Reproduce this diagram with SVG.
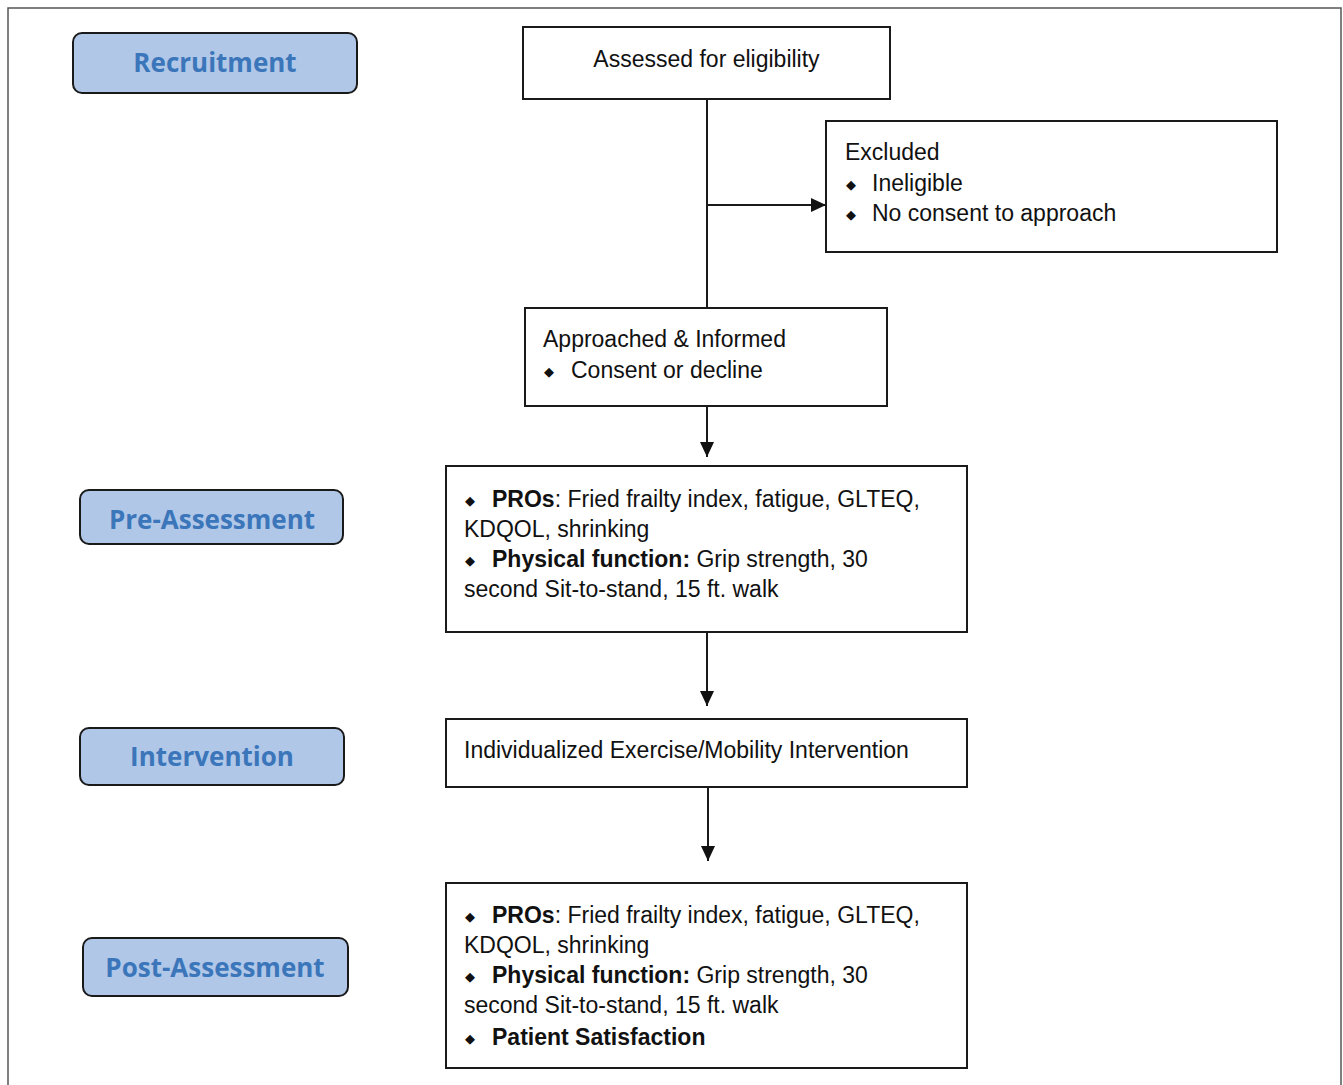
<svg xmlns="http://www.w3.org/2000/svg" width="1343" height="1085" viewBox="0 0 1343 1085">
<defs>
<marker id="arr" markerWidth="16" markerHeight="16" refX="15" refY="8" orient="auto" markerUnits="userSpaceOnUse">
<path d="M0,1 L15,8 L0,15 Z" fill="#111"/>
</marker>
<style>
.box{fill:#fff;stroke:#1a1a1a;stroke-width:2}
.lbl{fill:#b0c7e8;stroke:#1a1a1a;stroke-width:2}
.lt{font-family:"Open Sans","Liberation Sans",sans-serif;font-weight:700;font-size:26px;fill:#3b76ba;text-anchor:middle}
.t{font-family:"Liberation Sans",Arial,sans-serif;font-size:23px;fill:#111}
.b{font-weight:700}
.bul{font-family:"DejaVu Sans",sans-serif;font-size:13px;fill:#111}
.c{stroke:#1a1a1a;stroke-width:2;fill:none}
</style>
</defs>
<rect x="0" y="0" width="1343" height="1085" fill="#fff"/>
<rect x="8" y="8" width="1333" height="1090" fill="none" stroke="#555" stroke-width="1.5"/>

<g id="lbl-recruitment"><rect class="lbl" x="73" y="33" width="284" height="60" rx="9"/><text class="lt" x="215" y="72">Recruitment</text></g>
<g id="lbl-pre"><rect class="lbl" x="80" y="490" width="263" height="54" rx="9"/><text class="lt" x="212" y="529">Pre-Assessment</text></g>
<g id="lbl-intervention"><rect class="lbl" x="80" y="728" width="264" height="57" rx="9"/><text class="lt" x="212" y="766">Intervention</text></g>
<g id="lbl-post"><rect class="lbl" x="83" y="938" width="265" height="58" rx="9"/><text class="lt" x="215" y="977">Post-Assessment</text></g>

<g id="connectors">
<line class="c" x1="707" y1="99" x2="707" y2="308"/>
<line class="c" x1="707" y1="205" x2="826" y2="205" marker-end="url(#arr)"/>
<line class="c" x1="707" y1="406" x2="707" y2="457" marker-end="url(#arr)"/>
<line class="c" x1="707" y1="632" x2="707" y2="706" marker-end="url(#arr)"/>
<line class="c" x1="708" y1="787" x2="708" y2="861" marker-end="url(#arr)"/>
</g>

<g id="assessed"><rect class="box" x="523" y="27" width="367" height="72"/><text class="t" x="706.5" y="67" text-anchor="middle">Assessed for eligibility</text></g>

<g id="excluded"><rect class="box" x="826" y="121" width="451" height="131"/>
<text class="t" x="845" y="160">Excluded</text>
<text class="bul" x="846" y="189">◆</text><text class="t" x="872" y="191">Ineligible</text>
<text class="bul" x="846" y="219">◆</text><text class="t" x="872" y="221">No consent to approach</text>
</g>

<g id="approached"><rect class="box" x="525" y="308" width="362" height="98"/>
<text class="t" x="543" y="347">Approached &amp; Informed</text>
<text class="bul" x="544" y="376">◆</text><text class="t" x="571" y="378">Consent or decline</text>
</g>

<g id="pre"><rect class="box" x="446" y="466" width="521" height="166"/>
<text class="bul" x="465" y="505">◆</text><text class="t" x="492" y="507"><tspan class="b">PROs</tspan>: Fried frailty index, fatigue, GLTEQ,</text>
<text class="t" x="464" y="537">KDQOL, shrinking</text>
<text class="bul" x="465" y="565">◆</text><text class="t" x="492" y="567"><tspan class="b">Physical function:</tspan> Grip strength, 30</text>
<text class="t" x="464" y="597">second Sit-to-stand, 15 ft. walk</text>
</g>

<g id="intervention"><rect class="box" x="446" y="719" width="521" height="68"/>
<text class="t" x="464" y="758">Individualized Exercise/Mobility Intervention</text>
</g>

<g id="post"><rect class="box" x="446" y="883" width="521" height="185"/>
<text class="bul" x="465" y="921">◆</text><text class="t" x="492" y="923"><tspan class="b">PROs</tspan>: Fried frailty index, fatigue, GLTEQ,</text>
<text class="t" x="464" y="953">KDQOL, shrinking</text>
<text class="bul" x="465" y="981">◆</text><text class="t" x="492" y="983"><tspan class="b">Physical function:</tspan> Grip strength, 30</text>
<text class="t" x="464" y="1013">second Sit-to-stand, 15 ft. walk</text>
<text class="bul" x="465" y="1043">◆</text><text class="t b" x="492" y="1045">Patient Satisfaction</text>
</g>
</svg>
